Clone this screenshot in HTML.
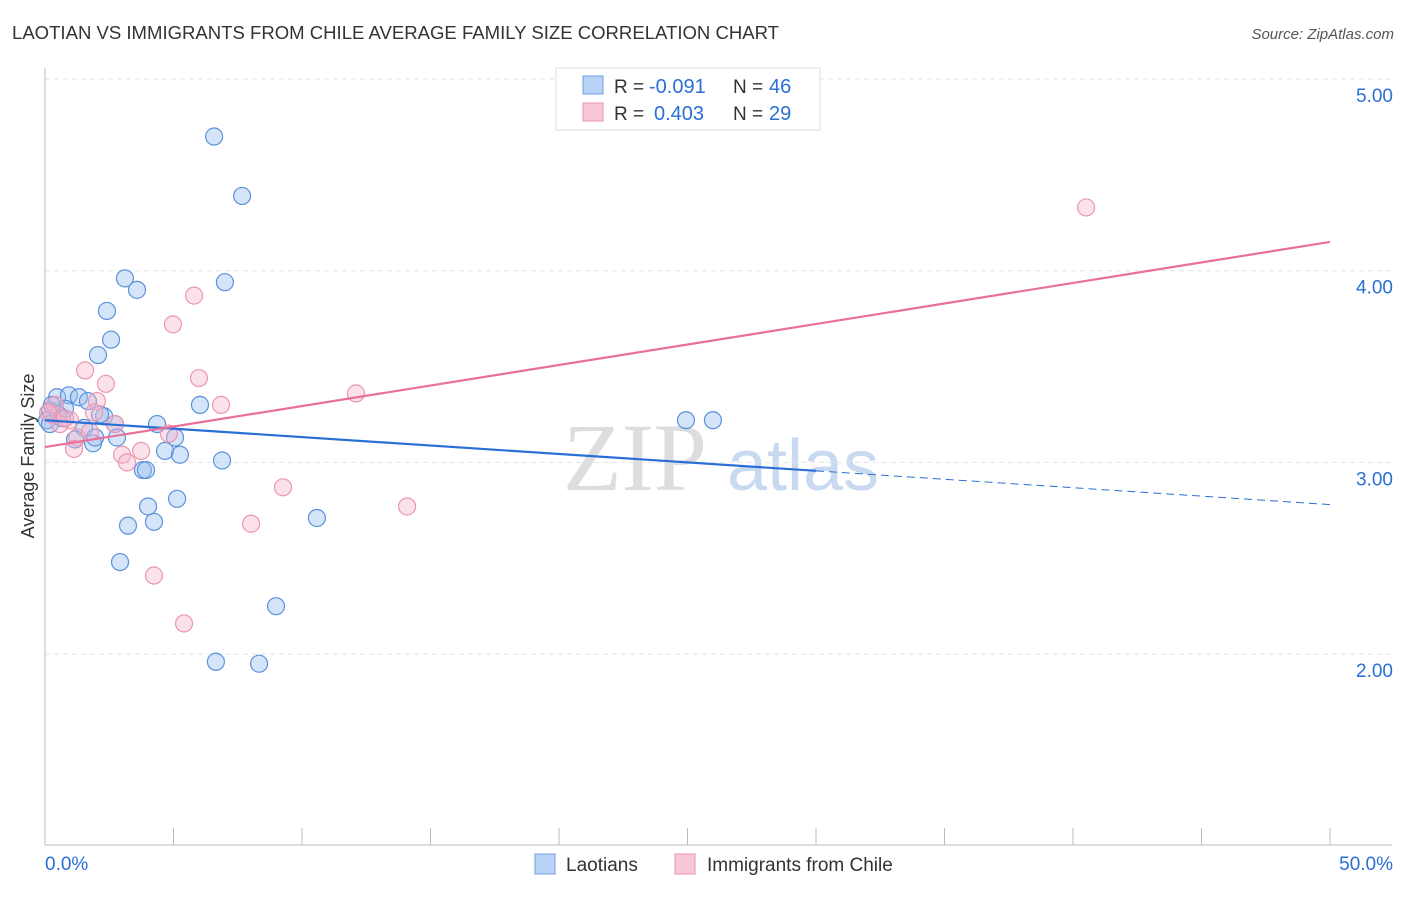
<!DOCTYPE html>
<html><head><meta charset="utf-8"><style>
body{margin:0;background:#fff;font-family:"Liberation Sans",sans-serif;}
</style></head><body>
<svg id="chart" width="1406" height="892" xmlns="http://www.w3.org/2000/svg">
<text x="12" y="39" font-size="18" fill="#333" textLength="767" lengthAdjust="spacingAndGlyphs">LAOTIAN VS IMMIGRANTS FROM CHILE AVERAGE FAMILY SIZE CORRELATION CHART</text>
<text x="1394" y="39" font-size="15" fill="#555" font-style="italic" text-anchor="end">Source: ZipAtlas.com</text>
<g>
<text x="635" y="490" font-size="96" fill="#ddd" font-family="Liberation Serif,serif" text-anchor="middle">ZIP</text>
<text x="803" y="490" font-size="72" fill="#c9daf0" text-anchor="middle">atlas</text>
</g>
<g id="grid"></g>
<g id="axes"></g>
<g id="marks"></g>
<g>
<rect x="556" y="68" width="264" height="62" fill="#fff" stroke="#ddd"/>
<rect x="583" y="76" width="20" height="18" fill="#b8d3f5" stroke="#6f9fe0"/>
<rect x="583" y="103" width="20" height="18" fill="#f9c8d6" stroke="#ea94b0"/>
<text x="614" y="93" font-size="19" fill="#333">R =</text>
<text x="649" y="93" font-size="20" fill="#2a6fd6">-0.091</text>
<text x="733" y="93" font-size="19" fill="#333">N =</text>
<text x="769" y="93" font-size="20" fill="#2a6fd6">46</text>
<text x="614" y="120" font-size="19" fill="#333">R =</text>
<text x="654" y="120" font-size="20" fill="#2a6fd6">0.403</text>
<text x="733" y="120" font-size="19" fill="#333">N =</text>
<text x="769" y="120" font-size="20" fill="#2a6fd6">29</text>
</g>
<g>
<rect x="535" y="854" width="20" height="20" fill="#b8d3f5" stroke="#6f9fe0"/>
<text x="566" y="871" font-size="19" fill="#333">Laotians</text>
<rect x="675" y="854" width="20" height="20" fill="#f9c8d6" stroke="#ea94b0"/>
<text x="707" y="871" font-size="19" fill="#333">Immigrants from Chile</text>
</g>
<text transform="translate(34,456) rotate(-90)" font-size="18" fill="#333" text-anchor="middle">Average Family Size</text>
</svg>
<script>
const yTicks=[2,3,4,5];
const yTickLabels=["2.00","3.00","4.00","5.00"];
const xTickVals=[0,5,10,15,20,25,30,35,40,45,50];
const xEndLabels=["0.0%","50.0%"];
const laoX=[6.58,7.67,3.11,3.58,7.00,2.41,2.57,2.06,0.47,0.93,1.32,1.67,0.78,0.19,0.08,0.51,2.30,4.36,6.03,1.52,2.72,1.17,1.87,1.95,2.80,5.06,4.67,5.25,6.89,3.81,3.93,5.14,4.01,4.24,3.23,10.58,2.92,8.99,6.65,8.33,24.94,25.99,0.19,0.66,2.14,0.27];
const laoY=[4.70,4.39,3.96,3.90,3.94,3.79,3.64,3.56,3.34,3.35,3.34,3.32,3.28,3.27,3.22,3.25,3.24,3.20,3.30,3.18,3.20,3.12,3.10,3.13,3.13,3.13,3.06,3.04,3.01,2.96,2.96,2.81,2.77,2.69,2.67,2.71,2.48,2.25,1.96,1.95,3.22,3.22,3.20,3.23,3.25,3.30];
const chiX=[40.51,5.80,4.98,1.56,2.37,5.99,6.85,12.10,2.02,1.91,0.97,0.58,0.27,2.72,4.82,1.25,1.13,3.00,3.19,3.74,9.26,8.02,14.09,4.24,5.41,0.39,0.12,0.78,1.75];
const chiY=[4.33,3.87,3.72,3.48,3.41,3.44,3.30,3.36,3.32,3.26,3.22,3.20,3.25,3.20,3.15,3.13,3.07,3.04,3.00,3.06,2.87,2.68,2.77,2.41,2.16,3.30,3.26,3.23,3.16];
const laoTrend=[3.22,2.78];
const chiTrend=[3.08,4.15];
const laoSolidEnd=30;

const NS="http://www.w3.org/2000/svg";
const X=v=>45+v*25.7;
const Y=v=>79+(5-v)*191.7;
function mk(tag,attrs,parent){const e=document.createElementNS(NS,tag);for(const k in attrs)e.setAttribute(k,attrs[k]);parent.appendChild(e);return e;}
const grid=document.getElementById('grid'),axes=document.getElementById('axes'),marks=document.getElementById('marks');
yTicks.forEach((t,i)=>{
 const l=mk('line',{x1:45,x2:1392,y1:Y(t),y2:Y(t),stroke:'#e2e2e2','stroke-dasharray':'5,4'},grid);
 
 
 const tx=mk('text',{x:1393,y:Y(t)+23,'font-size':19,fill:'#2a6fd6','text-anchor':'end'},axes);
 tx.textContent=yTickLabels[i];
 
 
});
const tl=mk('line',{x1:45,x2:1392,y1:79,y2:79,stroke:'#e2e2e2','stroke-dasharray':'5,4'},grid);


const ya=mk('line',{x1:45,x2:45,y1:68,y2:845,stroke:'#bbb'},axes);


const xa=mk('line',{x1:45,x2:1392,y1:845,y2:845,stroke:'#bbb'},axes);


xTickVals.forEach(v=>{
 const t=mk('line',{x1:X(v),x2:X(v),y1:828,y2:845,stroke:'#bbb'},axes);
 
 
});
const x0=mk('text',{x:45,y:870,'font-size':19,fill:'#2a6fd6'},axes);x0.textContent=xEndLabels[0];


const x1=mk('text',{x:1393,y:870,'font-size':19,fill:'#2a6fd6','text-anchor':'end'},axes);x1.textContent=xEndLabels[1];



laoX.forEach((x,i)=>{
 const c=mk('circle',{cx:X(x),cy:Y(laoY[i]),r:8.5,fill:'rgba(150,190,240,0.4)',stroke:'#5b91dc','stroke-width':1.2},marks);
 
 
});
chiX.forEach((x,i)=>{
 const c=mk('circle',{cx:X(x),cy:Y(chiY[i]),r:8.5,fill:'rgba(246,180,200,0.4)',stroke:'#eb97b2','stroke-width':1.2},marks);
 
 
});
const lv=x=>laoTrend[0]+(laoTrend[1]-laoTrend[0])*x/50;
const ls=mk('line',{x1:X(0),y1:Y(lv(0)),x2:X(laoSolidEnd),y2:Y(lv(laoSolidEnd)),stroke:'#2a6fd6','stroke-width':2.2},marks);


const ld=mk('line',{x1:X(laoSolidEnd),y1:Y(lv(laoSolidEnd)),x2:X(50),y2:Y(lv(50)),stroke:'#2a6fd6','stroke-width':1,'stroke-dasharray':'8,5'},marks);


const cl=mk('line',{x1:X(0),y1:Y(chiTrend[0]),x2:X(50),y2:Y(chiTrend[1]),stroke:'#e8709a','stroke-width':2.2},marks);


</script>
</body></html>
